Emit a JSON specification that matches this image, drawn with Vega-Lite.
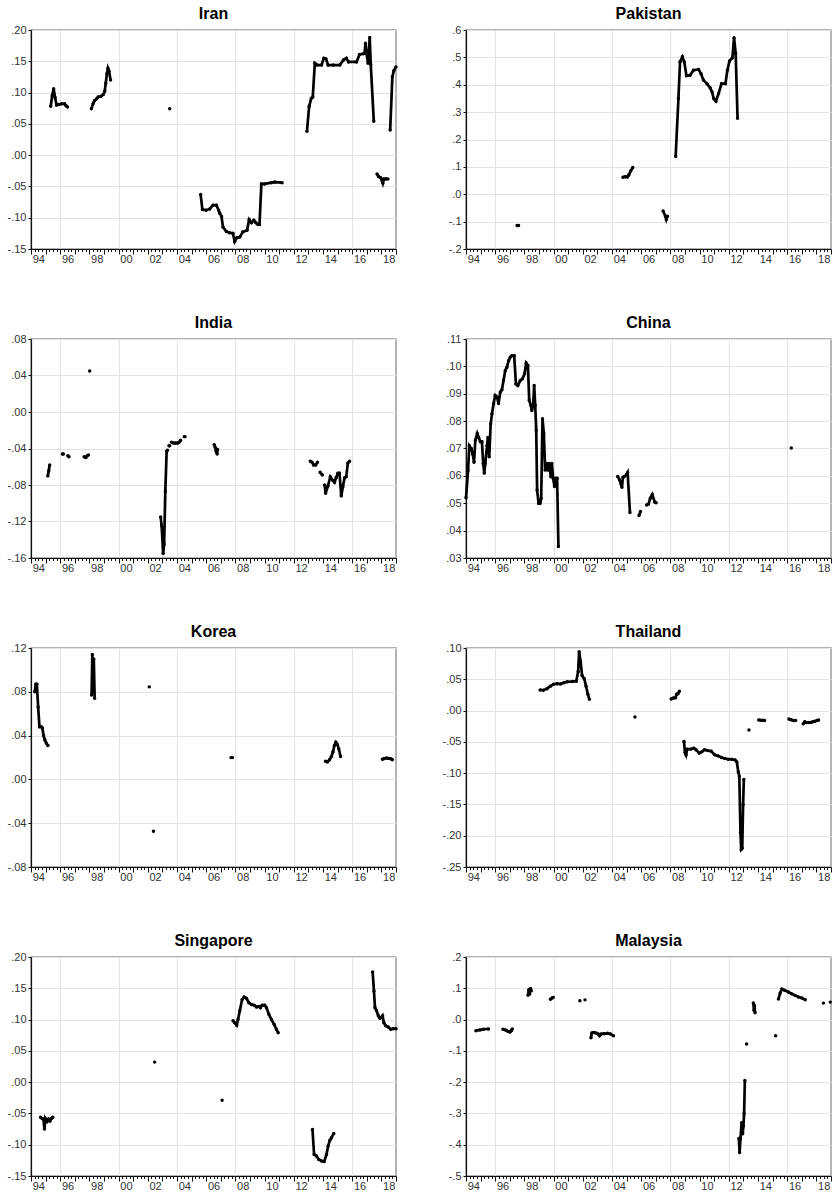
{
 "$schema": "https://vega.github.io/schema/vega-lite/v6.json",
 "padding": {"left": 6, "top": 5, "right": 2, "bottom": 3},
 "background": "white",
 "data": {"values": [
  {"c":"Iran","g":1,"x":1995.35,"y":0.078},{"c":"Iran","g":1,"x":1995.45,"y":0.095},{"c":"Iran","g":1,"x":1995.55,"y":0.106},{"c":"Iran","g":1,"x":1995.65,"y":0.092},{"c":"Iran","g":1,"x":1995.75,"y":0.080},{"c":"Iran","g":1,"x":1995.9,"y":0.081},{"c":"Iran","g":1,"x":1996.1,"y":0.082},{"c":"Iran","g":1,"x":1996.3,"y":0.082},{"c":"Iran","g":1,"x":1996.4,"y":0.079},{"c":"Iran","g":1,"x":1996.5,"y":0.077},
  {"c":"Iran","g":2,"x":1998.13,"y":0.074},{"c":"Iran","g":2,"x":1998.25,"y":0.082},{"c":"Iran","g":2,"x":1998.35,"y":0.087},{"c":"Iran","g":2,"x":1998.5,"y":0.090},{"c":"Iran","g":2,"x":1998.6,"y":0.093},{"c":"Iran","g":2,"x":1998.8,"y":0.094},{"c":"Iran","g":2,"x":1998.95,"y":0.097},{"c":"Iran","g":2,"x":1999.05,"y":0.102},{"c":"Iran","g":2,"x":1999.12,"y":0.115},{"c":"Iran","g":2,"x":1999.2,"y":0.130},{"c":"Iran","g":2,"x":1999.27,"y":0.139},{"c":"Iran","g":2,"x":1999.35,"y":0.134},{"c":"Iran","g":2,"x":1999.45,"y":0.120},
  {"c":"Iran","g":3,"x":2003.5,"y":0.074},
  {"c":"Iran","g":4,"x":2005.62,"y":-0.063},{"c":"Iran","g":4,"x":2005.74,"y":-0.087},{"c":"Iran","g":4,"x":2006.0,"y":-0.088},{"c":"Iran","g":4,"x":2006.24,"y":-0.086},{"c":"Iran","g":4,"x":2006.47,"y":-0.080},{"c":"Iran","g":4,"x":2006.7,"y":-0.080},{"c":"Iran","g":4,"x":2006.85,"y":-0.088},{"c":"Iran","g":4,"x":2006.93,"y":-0.093},{"c":"Iran","g":4,"x":2007.05,"y":-0.098},{"c":"Iran","g":4,"x":2007.15,"y":-0.115},{"c":"Iran","g":4,"x":2007.38,"y":-0.122},{"c":"Iran","g":4,"x":2007.6,"y":-0.124},{"c":"Iran","g":4,"x":2007.83,"y":-0.125},{"c":"Iran","g":4,"x":2007.95,"y":-0.138},{"c":"Iran","g":4,"x":2008.1,"y":-0.132},{"c":"Iran","g":4,"x":2008.3,"y":-0.131},{"c":"Iran","g":4,"x":2008.5,"y":-0.123},{"c":"Iran","g":4,"x":2008.8,"y":-0.120},{"c":"Iran","g":4,"x":2008.94,"y":-0.103},{"c":"Iran","g":4,"x":2009.1,"y":-0.108},{"c":"Iran","g":4,"x":2009.26,"y":-0.104},{"c":"Iran","g":4,"x":2009.4,"y":-0.108},{"c":"Iran","g":4,"x":2009.55,"y":-0.111},{"c":"Iran","g":4,"x":2009.65,"y":-0.111},{"c":"Iran","g":4,"x":2009.78,"y":-0.046},{"c":"Iran","g":4,"x":2010.0,"y":-0.046},{"c":"Iran","g":4,"x":2010.47,"y":-0.044},{"c":"Iran","g":4,"x":2010.7,"y":-0.043},{"c":"Iran","g":4,"x":2011.2,"y":-0.044},
  {"c":"Iran","g":5,"x":2012.9,"y":0.038},{"c":"Iran","g":5,"x":2013.05,"y":0.078},{"c":"Iran","g":5,"x":2013.2,"y":0.091},{"c":"Iran","g":5,"x":2013.3,"y":0.093},{"c":"Iran","g":5,"x":2013.44,"y":0.147},{"c":"Iran","g":5,"x":2013.6,"y":0.144},{"c":"Iran","g":5,"x":2013.9,"y":0.144},{"c":"Iran","g":5,"x":2014.06,"y":0.155},{"c":"Iran","g":5,"x":2014.2,"y":0.154},{"c":"Iran","g":5,"x":2014.35,"y":0.144},{"c":"Iran","g":5,"x":2014.7,"y":0.144},{"c":"Iran","g":5,"x":2015.15,"y":0.144},{"c":"Iran","g":5,"x":2015.4,"y":0.152},{"c":"Iran","g":5,"x":2015.6,"y":0.155},{"c":"Iran","g":5,"x":2015.75,"y":0.149},{"c":"Iran","g":5,"x":2016.3,"y":0.149},{"c":"Iran","g":5,"x":2016.5,"y":0.161},{"c":"Iran","g":5,"x":2016.75,"y":0.162},{"c":"Iran","g":5,"x":2016.85,"y":0.163},{"c":"Iran","g":5,"x":2016.91,"y":0.179},{"c":"Iran","g":5,"x":2016.98,"y":0.163},{"c":"Iran","g":5,"x":2017.08,"y":0.147},{"c":"Iran","g":5,"x":2017.2,"y":0.188},{"c":"Iran","g":5,"x":2017.27,"y":0.145},{"c":"Iran","g":5,"x":2017.48,"y":0.054},
  {"c":"Iran","g":6,"x":2017.7,"y":-0.030},{"c":"Iran","g":6,"x":2017.8,"y":-0.034},{"c":"Iran","g":6,"x":2017.95,"y":-0.036},{"c":"Iran","g":6,"x":2018.03,"y":-0.040},{"c":"Iran","g":6,"x":2018.1,"y":-0.045},{"c":"Iran","g":6,"x":2018.17,"y":-0.038},{"c":"Iran","g":6,"x":2018.3,"y":-0.038},{"c":"Iran","g":6,"x":2018.45,"y":-0.038},
  {"c":"Iran","g":7,"x":2018.6,"y":0.040},{"c":"Iran","g":7,"x":2018.75,"y":0.125},{"c":"Iran","g":7,"x":2018.85,"y":0.135},{"c":"Iran","g":7,"x":2019.0,"y":0.141},

  {"c":"Pakistan","g":1,"x":1997.5,"y":-0.114},{"c":"Pakistan","g":1,"x":1997.6,"y":-0.114},
  {"c":"Pakistan","g":2,"x":2004.75,"y":0.062},{"c":"Pakistan","g":2,"x":2004.9,"y":0.064},{"c":"Pakistan","g":2,"x":2005.05,"y":0.063},{"c":"Pakistan","g":2,"x":2005.15,"y":0.07},{"c":"Pakistan","g":2,"x":2005.28,"y":0.085},{"c":"Pakistan","g":2,"x":2005.42,"y":0.098},
  {"c":"Pakistan","g":3,"x":2007.5,"y":-0.061},{"c":"Pakistan","g":3,"x":2007.66,"y":-0.08},{"c":"Pakistan","g":3,"x":2007.72,"y":-0.092},{"c":"Pakistan","g":3,"x":2007.8,"y":-0.08},
  {"c":"Pakistan","g":4,"x":2008.36,"y":0.138},{"c":"Pakistan","g":4,"x":2008.55,"y":0.35},{"c":"Pakistan","g":4,"x":2008.66,"y":0.484},{"c":"Pakistan","g":4,"x":2008.82,"y":0.502},{"c":"Pakistan","g":4,"x":2008.95,"y":0.484},{"c":"Pakistan","g":4,"x":2009.1,"y":0.433},{"c":"Pakistan","g":4,"x":2009.35,"y":0.435},{"c":"Pakistan","g":4,"x":2009.58,"y":0.453},{"c":"Pakistan","g":4,"x":2009.93,"y":0.456},{"c":"Pakistan","g":4,"x":2010.1,"y":0.44},{"c":"Pakistan","g":4,"x":2010.26,"y":0.417},{"c":"Pakistan","g":4,"x":2010.5,"y":0.404},{"c":"Pakistan","g":4,"x":2010.73,"y":0.388},{"c":"Pakistan","g":4,"x":2010.85,"y":0.374},{"c":"Pakistan","g":4,"x":2010.97,"y":0.349},{"c":"Pakistan","g":4,"x":2011.12,"y":0.34},{"c":"Pakistan","g":4,"x":2011.3,"y":0.368},{"c":"Pakistan","g":4,"x":2011.5,"y":0.404},{"c":"Pakistan","g":4,"x":2011.77,"y":0.404},{"c":"Pakistan","g":4,"x":2011.9,"y":0.453},{"c":"Pakistan","g":4,"x":2012.05,"y":0.487},{"c":"Pakistan","g":4,"x":2012.25,"y":0.499},{"c":"Pakistan","g":4,"x":2012.36,"y":0.572},{"c":"Pakistan","g":4,"x":2012.47,"y":0.515},{"c":"Pakistan","g":4,"x":2012.6,"y":0.278},

  {"c":"India","g":1,"x":1995.15,"y":-0.070},{"c":"India","g":1,"x":1995.22,"y":-0.064},{"c":"India","g":1,"x":1995.28,"y":-0.058},
  {"c":"India","g":2,"x":1996.15,"y":-0.046},{"c":"India","g":2,"x":1996.22,"y":-0.046},
  {"c":"India","g":3,"x":1996.52,"y":-0.048},{"c":"India","g":3,"x":1996.6,"y":-0.049},
  {"c":"India","g":4,"x":1997.64,"y":-0.049},{"c":"India","g":4,"x":1997.75,"y":-0.050},{"c":"India","g":4,"x":1997.85,"y":-0.048},{"c":"India","g":4,"x":1997.93,"y":-0.047},
  {"c":"India","g":5,"x":1998.02,"y":0.045},
  {"c":"India","g":6,"x":2002.88,"y":-0.115},{"c":"India","g":6,"x":2002.95,"y":-0.125},{"c":"India","g":6,"x":2003.05,"y":-0.155},{"c":"India","g":6,"x":2003.12,"y":-0.145},{"c":"India","g":6,"x":2003.2,"y":-0.087},{"c":"India","g":6,"x":2003.29,"y":-0.043},{"c":"India","g":6,"x":2003.35,"y":-0.042},
  {"c":"India","g":7,"x":2003.45,"y":-0.037},{"c":"India","g":7,"x":2003.5,"y":-0.037},
  {"c":"India","g":8,"x":2003.62,"y":-0.033},{"c":"India","g":8,"x":2003.75,"y":-0.034},{"c":"India","g":8,"x":2003.9,"y":-0.034},{"c":"India","g":8,"x":2004.05,"y":-0.034},{"c":"India","g":8,"x":2004.15,"y":-0.033},{"c":"India","g":8,"x":2004.25,"y":-0.031},
  {"c":"India","g":9,"x":2004.5,"y":-0.027},{"c":"India","g":9,"x":2004.55,"y":-0.027},
  {"c":"India","g":10,"x":2006.55,"y":-0.036},{"c":"India","g":10,"x":2006.62,"y":-0.039},{"c":"India","g":10,"x":2006.68,"y":-0.043},{"c":"India","g":10,"x":2006.75,"y":-0.046},{"c":"India","g":10,"x":2006.78,"y":-0.041},
  {"c":"India","g":11,"x":2013.13,"y":-0.054},{"c":"India","g":11,"x":2013.25,"y":-0.055},{"c":"India","g":11,"x":2013.35,"y":-0.058},{"c":"India","g":11,"x":2013.5,"y":-0.058},{"c":"India","g":11,"x":2013.62,"y":-0.055},
  {"c":"India","g":12,"x":2013.8,"y":-0.066},{"c":"India","g":12,"x":2013.95,"y":-0.069},
  {"c":"India","g":13,"x":2014.11,"y":-0.080},{"c":"India","g":13,"x":2014.18,"y":-0.089},{"c":"India","g":13,"x":2014.34,"y":-0.081},{"c":"India","g":13,"x":2014.5,"y":-0.071},{"c":"India","g":13,"x":2014.68,"y":-0.075},{"c":"India","g":13,"x":2014.79,"y":-0.077},{"c":"India","g":13,"x":2014.9,"y":-0.072},{"c":"India","g":13,"x":2015.02,"y":-0.067},{"c":"India","g":13,"x":2015.13,"y":-0.067},{"c":"India","g":13,"x":2015.25,"y":-0.092},{"c":"India","g":13,"x":2015.36,"y":-0.082},{"c":"India","g":13,"x":2015.48,"y":-0.072},{"c":"India","g":13,"x":2015.59,"y":-0.071},{"c":"India","g":13,"x":2015.7,"y":-0.056},{"c":"India","g":13,"x":2015.82,"y":-0.054},

  {"c":"China","g":1,"x":1994.0,"y":0.052},{"c":"China","g":1,"x":1994.14,"y":0.062},{"c":"China","g":1,"x":1994.23,"y":0.071},{"c":"China","g":1,"x":1994.36,"y":0.070},{"c":"China","g":1,"x":1994.46,"y":0.068},{"c":"China","g":1,"x":1994.55,"y":0.065},{"c":"China","g":1,"x":1994.64,"y":0.073},{"c":"China","g":1,"x":1994.77,"y":0.0755},{"c":"China","g":1,"x":1994.87,"y":0.074},{"c":"China","g":1,"x":1994.98,"y":0.0725},{"c":"China","g":1,"x":1995.09,"y":0.0725},{"c":"China","g":1,"x":1995.18,"y":0.0645},{"c":"China","g":1,"x":1995.25,"y":0.061},{"c":"China","g":1,"x":1995.32,"y":0.0645},{"c":"China","g":1,"x":1995.44,"y":0.071},{"c":"China","g":1,"x":1995.5,"y":0.074},{"c":"China","g":1,"x":1995.59,"y":0.067},{"c":"China","g":1,"x":1995.69,"y":0.079},{"c":"China","g":1,"x":1995.78,"y":0.0827},{"c":"China","g":1,"x":1995.89,"y":0.0864},{"c":"China","g":1,"x":1996.0,"y":0.0894},{"c":"China","g":1,"x":1996.12,"y":0.0888},{"c":"China","g":1,"x":1996.23,"y":0.0864},{"c":"China","g":1,"x":1996.35,"y":0.0906},{"c":"China","g":1,"x":1996.46,"y":0.0915},{"c":"China","g":1,"x":1996.57,"y":0.0948},{"c":"China","g":1,"x":1996.69,"y":0.0985},{"c":"China","g":1,"x":1996.8,"y":0.0997},{"c":"China","g":1,"x":1996.92,"y":0.1021},{"c":"China","g":1,"x":1997.03,"y":0.1033},{"c":"China","g":1,"x":1997.14,"y":0.1039},{"c":"China","g":1,"x":1997.3,"y":0.1039},{"c":"China","g":1,"x":1997.42,"y":0.0936},{"c":"China","g":1,"x":1997.55,"y":0.093},{"c":"China","g":1,"x":1997.71,"y":0.0948},{"c":"China","g":1,"x":1997.87,"y":0.0955},{"c":"China","g":1,"x":1998.01,"y":0.0973},{"c":"China","g":1,"x":1998.12,"y":0.1012},{"c":"China","g":1,"x":1998.24,"y":0.1003},{"c":"China","g":1,"x":1998.33,"y":0.0876},{"c":"China","g":1,"x":1998.44,"y":0.0858},{"c":"China","g":1,"x":1998.51,"y":0.0839},{"c":"China","g":1,"x":1998.6,"y":0.0858},{"c":"China","g":1,"x":1998.67,"y":0.093},{"c":"China","g":1,"x":1998.74,"y":0.0858},{"c":"China","g":1,"x":1998.81,"y":0.0767},{"c":"China","g":1,"x":1998.87,"y":0.0548},{"c":"China","g":1,"x":1998.97,"y":0.050},{"c":"China","g":1,"x":1999.08,"y":0.050},{"c":"China","g":1,"x":1999.15,"y":0.0518},{"c":"China","g":1,"x":1999.24,"y":0.0809},{"c":"China","g":1,"x":1999.33,"y":0.0755},{"c":"China","g":1,"x":1999.42,"y":0.0621},{"c":"China","g":1,"x":1999.51,"y":0.0645},{"c":"China","g":1,"x":1999.6,"y":0.0621},{"c":"China","g":1,"x":1999.69,"y":0.0645},{"c":"China","g":1,"x":1999.81,"y":0.0597},{"c":"China","g":1,"x":1999.88,"y":0.0645},{"c":"China","g":1,"x":1999.97,"y":0.0591},{"c":"China","g":1,"x":2000.06,"y":0.0561},{"c":"China","g":1,"x":2000.15,"y":0.0591},{"c":"China","g":1,"x":2000.24,"y":0.0591},{"c":"China","g":1,"x":2000.33,"y":0.0342},
  {"c":"China","g":2,"x":2004.39,"y":0.0598},{"c":"China","g":2,"x":2004.52,"y":0.0585},{"c":"China","g":2,"x":2004.62,"y":0.057},{"c":"China","g":2,"x":2004.68,"y":0.0558},{"c":"China","g":2,"x":2004.75,"y":0.0595},{"c":"China","g":2,"x":2004.85,"y":0.0598},{"c":"China","g":2,"x":2005.0,"y":0.0605},{"c":"China","g":2,"x":2005.07,"y":0.0612},{"c":"China","g":2,"x":2005.23,"y":0.0466},
  {"c":"China","g":3,"x":2005.85,"y":0.0455},{"c":"China","g":3,"x":2005.95,"y":0.047},
  {"c":"China","g":4,"x":2006.37,"y":0.0494},{"c":"China","g":4,"x":2006.5,"y":0.0497},{"c":"China","g":4,"x":2006.62,"y":0.0518},{"c":"China","g":4,"x":2006.76,"y":0.0532},{"c":"China","g":4,"x":2006.92,"y":0.0505},{"c":"China","g":4,"x":2007.02,"y":0.0502},
  {"c":"China","g":5,"x":2016.28,"y":0.0702},

  {"c":"Korea","g":1,"x":1994.26,"y":0.080},{"c":"Korea","g":1,"x":1994.33,"y":0.087},{"c":"Korea","g":1,"x":1994.4,"y":0.087},{"c":"Korea","g":1,"x":1994.49,"y":0.066},{"c":"Korea","g":1,"x":1994.58,"y":0.048},{"c":"Korea","g":1,"x":1994.7,"y":0.048},{"c":"Korea","g":1,"x":1994.78,"y":0.047},{"c":"Korea","g":1,"x":1994.86,"y":0.040},{"c":"Korea","g":1,"x":1994.95,"y":0.036},{"c":"Korea","g":1,"x":1995.05,"y":0.033},{"c":"Korea","g":1,"x":1995.16,"y":0.031},
  {"c":"Korea","g":2,"x":1998.15,"y":0.077},{"c":"Korea","g":2,"x":1998.2,"y":0.114},{"c":"Korea","g":2,"x":1998.25,"y":0.080},{"c":"Korea","g":2,"x":1998.3,"y":0.110},{"c":"Korea","g":2,"x":1998.36,"y":0.074},
  {"c":"Korea","g":3,"x":2002.1,"y":0.0845},
  {"c":"Korea","g":4,"x":2002.39,"y":-0.0474},
  {"c":"Korea","g":5,"x":2007.7,"y":0.0199},{"c":"Korea","g":5,"x":2007.8,"y":0.0199},
  {"c":"Korea","g":6,"x":2014.17,"y":0.0165},{"c":"Korea","g":6,"x":2014.3,"y":0.016},{"c":"Korea","g":6,"x":2014.45,"y":0.018},{"c":"Korea","g":6,"x":2014.58,"y":0.021},{"c":"Korea","g":6,"x":2014.68,"y":0.025},{"c":"Korea","g":6,"x":2014.78,"y":0.031},{"c":"Korea","g":6,"x":2014.88,"y":0.034},{"c":"Korea","g":6,"x":2014.98,"y":0.032},{"c":"Korea","g":6,"x":2015.08,"y":0.028},{"c":"Korea","g":6,"x":2015.2,"y":0.021},
  {"c":"Korea","g":7,"x":2018.07,"y":0.0185},{"c":"Korea","g":7,"x":2018.2,"y":0.019},{"c":"Korea","g":7,"x":2018.35,"y":0.0195},{"c":"Korea","g":7,"x":2018.5,"y":0.0192},{"c":"Korea","g":7,"x":2018.65,"y":0.0188},{"c":"Korea","g":7,"x":2018.75,"y":0.018},

  {"c":"Thailand","g":1,"x":1999.08,"y":0.033},{"c":"Thailand","g":1,"x":1999.3,"y":0.0325},{"c":"Thailand","g":1,"x":1999.55,"y":0.035},{"c":"Thailand","g":1,"x":1999.78,"y":0.039},{"c":"Thailand","g":1,"x":2000.0,"y":0.042},{"c":"Thailand","g":1,"x":2000.24,"y":0.043},{"c":"Thailand","g":1,"x":2000.47,"y":0.0425},{"c":"Thailand","g":1,"x":2000.7,"y":0.0445},{"c":"Thailand","g":1,"x":2000.93,"y":0.046},{"c":"Thailand","g":1,"x":2001.28,"y":0.0465},{"c":"Thailand","g":1,"x":2001.55,"y":0.047},{"c":"Thailand","g":1,"x":2001.68,"y":0.062},{"c":"Thailand","g":1,"x":2001.75,"y":0.094},{"c":"Thailand","g":1,"x":2001.85,"y":0.078},{"c":"Thailand","g":1,"x":2001.95,"y":0.056},{"c":"Thailand","g":1,"x":2002.1,"y":0.051},{"c":"Thailand","g":1,"x":2002.22,"y":0.039},{"c":"Thailand","g":1,"x":2002.35,"y":0.026},{"c":"Thailand","g":1,"x":2002.45,"y":0.018},
  {"c":"Thailand","g":2,"x":2005.57,"y":-0.0104},
  {"c":"Thailand","g":3,"x":2008.05,"y":0.0185},{"c":"Thailand","g":3,"x":2008.2,"y":0.020},{"c":"Thailand","g":3,"x":2008.35,"y":0.0205},{"c":"Thailand","g":3,"x":2008.42,"y":0.026},{"c":"Thailand","g":3,"x":2008.52,"y":0.027},{"c":"Thailand","g":3,"x":2008.62,"y":0.031},
  {"c":"Thailand","g":4,"x":2008.93,"y":-0.0496},{"c":"Thailand","g":4,"x":2009.0,"y":-0.067},{"c":"Thailand","g":4,"x":2009.07,"y":-0.071},{"c":"Thailand","g":4,"x":2009.15,"y":-0.0616},{"c":"Thailand","g":4,"x":2009.4,"y":-0.0616},{"c":"Thailand","g":4,"x":2009.6,"y":-0.060},{"c":"Thailand","g":4,"x":2009.75,"y":-0.0627},{"c":"Thailand","g":4,"x":2009.98,"y":-0.068},{"c":"Thailand","g":4,"x":2010.15,"y":-0.066},{"c":"Thailand","g":4,"x":2010.33,"y":-0.0627},{"c":"Thailand","g":4,"x":2010.56,"y":-0.064},{"c":"Thailand","g":4,"x":2010.8,"y":-0.065},{"c":"Thailand","g":4,"x":2011.03,"y":-0.0708},{"c":"Thailand","g":4,"x":2011.26,"y":-0.0724},{"c":"Thailand","g":4,"x":2011.5,"y":-0.075},{"c":"Thailand","g":4,"x":2011.73,"y":-0.0767},{"c":"Thailand","g":4,"x":2011.96,"y":-0.0778},{"c":"Thailand","g":4,"x":2012.2,"y":-0.0778},{"c":"Thailand","g":4,"x":2012.43,"y":-0.0788},{"c":"Thailand","g":4,"x":2012.55,"y":-0.082},{"c":"Thailand","g":4,"x":2012.65,"y":-0.098},{"c":"Thailand","g":4,"x":2012.72,"y":-0.105},{"c":"Thailand","g":4,"x":2012.8,"y":-0.195},{"c":"Thailand","g":4,"x":2012.85,"y":-0.222},{"c":"Thailand","g":4,"x":2012.92,"y":-0.22},{"c":"Thailand","g":4,"x":2012.98,"y":-0.15},{"c":"Thailand","g":4,"x":2013.03,"y":-0.11},
  {"c":"Thailand","g":5,"x":2013.38,"y":-0.031},
  {"c":"Thailand","g":6,"x":2014.05,"y":-0.015},{"c":"Thailand","g":6,"x":2014.2,"y":-0.0155},{"c":"Thailand","g":6,"x":2014.35,"y":-0.0155},{"c":"Thailand","g":6,"x":2014.45,"y":-0.016},
  {"c":"Thailand","g":7,"x":2016.12,"y":-0.0135},{"c":"Thailand","g":7,"x":2016.25,"y":-0.0145},{"c":"Thailand","g":7,"x":2016.45,"y":-0.016},{"c":"Thailand","g":7,"x":2016.58,"y":-0.016},
  {"c":"Thailand","g":8,"x":2017.1,"y":-0.021},{"c":"Thailand","g":8,"x":2017.2,"y":-0.018},{"c":"Thailand","g":8,"x":2017.3,"y":-0.019},{"c":"Thailand","g":8,"x":2017.45,"y":-0.019},{"c":"Thailand","g":8,"x":2017.6,"y":-0.019},{"c":"Thailand","g":8,"x":2017.75,"y":-0.018},{"c":"Thailand","g":8,"x":2017.9,"y":-0.017},{"c":"Thailand","g":8,"x":2018.05,"y":-0.016},{"c":"Thailand","g":8,"x":2018.15,"y":-0.015},

  {"c":"Singapore","g":1,"x":1994.65,"y":-0.056},{"c":"Singapore","g":1,"x":1994.75,"y":-0.058},{"c":"Singapore","g":1,"x":1994.85,"y":-0.059},{"c":"Singapore","g":1,"x":1994.92,"y":-0.075},{"c":"Singapore","g":1,"x":1994.98,"y":-0.058},{"c":"Singapore","g":1,"x":1995.1,"y":-0.063},{"c":"Singapore","g":1,"x":1995.2,"y":-0.059},{"c":"Singapore","g":1,"x":1995.3,"y":-0.062},{"c":"Singapore","g":1,"x":1995.4,"y":-0.058},{"c":"Singapore","g":1,"x":1995.5,"y":-0.056},
  {"c":"Singapore","g":2,"x":2002.47,"y":0.032},
  {"c":"Singapore","g":3,"x":2007.09,"y":-0.0288},
  {"c":"Singapore","g":4,"x":2007.84,"y":0.098},{"c":"Singapore","g":4,"x":2007.95,"y":0.095},{"c":"Singapore","g":4,"x":2008.09,"y":0.091},{"c":"Singapore","g":4,"x":2008.18,"y":0.100},{"c":"Singapore","g":4,"x":2008.3,"y":0.114},{"c":"Singapore","g":4,"x":2008.46,"y":0.132},{"c":"Singapore","g":4,"x":2008.6,"y":0.136},{"c":"Singapore","g":4,"x":2008.76,"y":0.134},{"c":"Singapore","g":4,"x":2008.92,"y":0.127},{"c":"Singapore","g":4,"x":2009.1,"y":0.124},{"c":"Singapore","g":4,"x":2009.28,"y":0.123},{"c":"Singapore","g":4,"x":2009.44,"y":0.120},{"c":"Singapore","g":4,"x":2009.6,"y":0.121},{"c":"Singapore","g":4,"x":2009.71,"y":0.119},{"c":"Singapore","g":4,"x":2009.83,"y":0.123},{"c":"Singapore","g":4,"x":2010.01,"y":0.123},{"c":"Singapore","g":4,"x":2010.13,"y":0.119},{"c":"Singapore","g":4,"x":2010.29,"y":0.1085},{"c":"Singapore","g":4,"x":2010.47,"y":0.100},{"c":"Singapore","g":4,"x":2010.65,"y":0.0924},{"c":"Singapore","g":4,"x":2010.81,"y":0.0844},{"c":"Singapore","g":4,"x":2010.93,"y":0.079},
  {"c":"Singapore","g":5,"x":2013.28,"y":-0.0757},{"c":"Singapore","g":5,"x":2013.39,"y":-0.1156},{"c":"Singapore","g":5,"x":2013.55,"y":-0.118},{"c":"Singapore","g":5,"x":2013.71,"y":-0.1236},{"c":"Singapore","g":5,"x":2013.9,"y":-0.126},{"c":"Singapore","g":5,"x":2014.08,"y":-0.127},{"c":"Singapore","g":5,"x":2014.24,"y":-0.1156},{"c":"Singapore","g":5,"x":2014.35,"y":-0.102},{"c":"Singapore","g":5,"x":2014.47,"y":-0.093},{"c":"Singapore","g":5,"x":2014.58,"y":-0.089},{"c":"Singapore","g":5,"x":2014.74,"y":-0.082},
  {"c":"Singapore","g":6,"x":2017.4,"y":0.176},{"c":"Singapore","g":6,"x":2017.49,"y":0.1455},{"c":"Singapore","g":6,"x":2017.56,"y":0.119},{"c":"Singapore","g":6,"x":2017.67,"y":0.114},{"c":"Singapore","g":6,"x":2017.79,"y":0.106},{"c":"Singapore","g":6,"x":2017.9,"y":0.102},{"c":"Singapore","g":6,"x":2018.01,"y":0.1035},{"c":"Singapore","g":6,"x":2018.08,"y":0.106},{"c":"Singapore","g":6,"x":2018.17,"y":0.095},{"c":"Singapore","g":6,"x":2018.29,"y":0.090},{"c":"Singapore","g":6,"x":2018.47,"y":0.088},{"c":"Singapore","g":6,"x":2018.63,"y":0.0844},{"c":"Singapore","g":6,"x":2018.81,"y":0.0855},{"c":"Singapore","g":6,"x":2019.0,"y":0.0855},

  {"c":"Malaysia","g":1,"x":1994.68,"y":-0.0354},{"c":"Malaysia","g":1,"x":1994.96,"y":-0.033},{"c":"Malaysia","g":1,"x":1995.2,"y":-0.031},{"c":"Malaysia","g":1,"x":1995.54,"y":-0.030},
  {"c":"Malaysia","g":2,"x":1996.53,"y":-0.031},{"c":"Malaysia","g":2,"x":1996.7,"y":-0.033},{"c":"Malaysia","g":2,"x":1996.86,"y":-0.037},{"c":"Malaysia","g":2,"x":1997.0,"y":-0.040},{"c":"Malaysia","g":2,"x":1997.1,"y":-0.036},{"c":"Malaysia","g":2,"x":1997.17,"y":-0.030},
  {"c":"Malaysia","g":3,"x":1998.25,"y":0.078},{"c":"Malaysia","g":3,"x":1998.3,"y":0.095},{"c":"Malaysia","g":3,"x":1998.36,"y":0.082},{"c":"Malaysia","g":3,"x":1998.42,"y":0.099},{"c":"Malaysia","g":3,"x":1998.47,"y":0.092},
  {"c":"Malaysia","g":4,"x":1999.78,"y":0.065},{"c":"Malaysia","g":4,"x":1999.9,"y":0.069},{"c":"Malaysia","g":4,"x":1999.98,"y":0.071},
  {"c":"Malaysia","g":5,"x":2001.8,"y":0.060},
  {"c":"Malaysia","g":6,"x":2002.15,"y":0.063},
  {"c":"Malaysia","g":7,"x":2002.56,"y":-0.058},{"c":"Malaysia","g":7,"x":2002.62,"y":-0.043},{"c":"Malaysia","g":7,"x":2002.75,"y":-0.041},{"c":"Malaysia","g":7,"x":2002.9,"y":-0.043},{"c":"Malaysia","g":7,"x":2003.05,"y":-0.046},{"c":"Malaysia","g":7,"x":2003.15,"y":-0.052},{"c":"Malaysia","g":7,"x":2003.25,"y":-0.046},{"c":"Malaysia","g":7,"x":2003.45,"y":-0.045},{"c":"Malaysia","g":7,"x":2003.7,"y":-0.044},{"c":"Malaysia","g":7,"x":2003.9,"y":-0.046},{"c":"Malaysia","g":7,"x":2004.1,"y":-0.052},
  {"c":"Malaysia","g":8,"x":2012.69,"y":-0.38},{"c":"Malaysia","g":8,"x":2012.74,"y":-0.425},{"c":"Malaysia","g":8,"x":2012.8,"y":-0.38},{"c":"Malaysia","g":8,"x":2012.88,"y":-0.33},{"c":"Malaysia","g":8,"x":2012.95,"y":-0.365},{"c":"Malaysia","g":8,"x":2013.0,"y":-0.34},{"c":"Malaysia","g":8,"x":2013.05,"y":-0.30},{"c":"Malaysia","g":8,"x":2013.1,"y":-0.195},
  {"c":"Malaysia","g":9,"x":2013.22,"y":-0.078},
  {"c":"Malaysia","g":10,"x":2013.68,"y":0.053},{"c":"Malaysia","g":10,"x":2013.72,"y":0.03},{"c":"Malaysia","g":10,"x":2013.76,"y":0.045},{"c":"Malaysia","g":10,"x":2013.8,"y":0.022},
  {"c":"Malaysia","g":11,"x":2015.21,"y":-0.0516},
  {"c":"Malaysia","g":12,"x":2015.4,"y":0.0655},{"c":"Malaysia","g":12,"x":2015.52,"y":0.085},{"c":"Malaysia","g":12,"x":2015.64,"y":0.0977},{"c":"Malaysia","g":12,"x":2015.82,"y":0.0934},{"c":"Malaysia","g":12,"x":2016.08,"y":0.088},{"c":"Malaysia","g":12,"x":2016.3,"y":0.0827},{"c":"Malaysia","g":12,"x":2016.54,"y":0.0773},{"c":"Malaysia","g":12,"x":2016.77,"y":0.072},{"c":"Malaysia","g":12,"x":2017.0,"y":0.0687},{"c":"Malaysia","g":12,"x":2017.24,"y":0.0634},
  {"c":"Malaysia","g":13,"x":2018.48,"y":0.0526},
  {"c":"Malaysia","g":14,"x":2018.95,"y":0.0558}
 ]},
 "columns": 2,
 "spacing": {"row": 90, "column": 70},
 "bounds": "flush",
 "concat": [
  {"title": "Iran", "width": 365, "height": 219,
   "transform": [{"filter": "datum.c == 'Iran'"}],
   "encoding": {
    "x": {"field": "x", "type": "quantitative", "scale": {"domain": [1994, 2019], "nice": false, "zero": false},
     "axis": {"title": null, "values": [1994,1994.25,1994.5,1994.75,1995,1995.25,1995.5,1995.75,1996,1996.25,1996.5,1996.75,1997,1997.25,1997.5,1997.75,1998,1998.25,1998.5,1998.75,1999,1999.25,1999.5,1999.75,2000,2000.25,2000.5,2000.75,2001,2001.25,2001.5,2001.75,2002,2002.25,2002.5,2002.75,2003,2003.25,2003.5,2003.75,2004,2004.25,2004.5,2004.75,2005,2005.25,2005.5,2005.75,2006,2006.25,2006.5,2006.75,2007,2007.25,2007.5,2007.75,2008,2008.25,2008.5,2008.75,2009,2009.25,2009.5,2009.75,2010,2010.25,2010.5,2010.75,2011,2011.25,2011.5,2011.75,2012,2012.25,2012.5,2012.75,2013,2013.25,2013.5,2013.75,2014,2014.25,2014.5,2014.75,2015,2015.25,2015.5,2015.75,2016,2016.25,2016.5,2016.75,2017,2017.25,2017.5,2017.75,2018,2018.25,2018.5,2018.75,2019],
      "grid": true, "gridOpacity": {"condition": {"test": "datum.value % 4 == 0", "value": 1}, "value": 0},
      "tickSize": {"condition": {"test": "datum.value % 1 == 0", "value": 5}, "value": 2.5},
      "labelExpr": "datum.value % 2 == 0.5 ? substring(toString(floor(datum.value)), 2, 4) : ''",
      "labelOverlap": false, "labelFlush": false, "labelPadding": 2}},
    "y": {"field": "y", "type": "quantitative", "scale": {"domain": [-0.15, 0.2], "nice": false, "zero": false},
     "axis": {"title": null, "values": [-0.15,-0.1,-0.05,0,0.05,0.1,0.15,0.2], "format": ".2f", "labelExpr": "replace(replace(datum.label, '\u2212', '-'), '0.', '.')", "grid": true, "tickSize": 3, "labelPadding": 2}}
   },
   "layer": [
    {"mark": {"type": "line", "color": "#000", "strokeWidth": 2.7}, "encoding": {"detail": {"field": "g"}}},
    {"mark": {"type": "circle", "color": "#000", "size": 12, "opacity": 1}}
   ]},
  {"title": "Pakistan", "width": 365, "height": 219,
   "transform": [{"filter": "datum.c == 'Pakistan'"}],
   "encoding": {
    "x": {"field": "x", "type": "quantitative", "scale": {"domain": [1994, 2019], "nice": false, "zero": false},
     "axis": {"title": null, "values": [1994,1994.25,1994.5,1994.75,1995,1995.25,1995.5,1995.75,1996,1996.25,1996.5,1996.75,1997,1997.25,1997.5,1997.75,1998,1998.25,1998.5,1998.75,1999,1999.25,1999.5,1999.75,2000,2000.25,2000.5,2000.75,2001,2001.25,2001.5,2001.75,2002,2002.25,2002.5,2002.75,2003,2003.25,2003.5,2003.75,2004,2004.25,2004.5,2004.75,2005,2005.25,2005.5,2005.75,2006,2006.25,2006.5,2006.75,2007,2007.25,2007.5,2007.75,2008,2008.25,2008.5,2008.75,2009,2009.25,2009.5,2009.75,2010,2010.25,2010.5,2010.75,2011,2011.25,2011.5,2011.75,2012,2012.25,2012.5,2012.75,2013,2013.25,2013.5,2013.75,2014,2014.25,2014.5,2014.75,2015,2015.25,2015.5,2015.75,2016,2016.25,2016.5,2016.75,2017,2017.25,2017.5,2017.75,2018,2018.25,2018.5,2018.75,2019],
      "grid": true, "gridOpacity": {"condition": {"test": "datum.value % 4 == 0", "value": 1}, "value": 0},
      "tickSize": {"condition": {"test": "datum.value % 1 == 0", "value": 5}, "value": 2.5},
      "labelExpr": "datum.value % 2 == 0.5 ? substring(toString(floor(datum.value)), 2, 4) : ''",
      "labelOverlap": false, "labelFlush": false, "labelPadding": 2}},
    "y": {"field": "y", "type": "quantitative", "scale": {"domain": [-0.2, 0.6], "nice": false, "zero": false},
     "axis": {"title": null, "values": [-0.2,-0.1,0,0.1,0.2,0.3,0.4,0.5,0.6], "format": ".1f", "labelExpr": "replace(replace(datum.label, '\u2212', '-'), '0.', '.')", "grid": true, "tickSize": 3, "labelPadding": 2}}
   },
   "layer": [
    {"mark": {"type": "line", "color": "#000", "strokeWidth": 2.7}, "encoding": {"detail": {"field": "g"}}},
    {"mark": {"type": "circle", "color": "#000", "size": 12, "opacity": 1}}
   ]},
  {"title": "India", "width": 365, "height": 219,
   "transform": [{"filter": "datum.c == 'India'"}],
   "encoding": {
    "x": {"field": "x", "type": "quantitative", "scale": {"domain": [1994, 2019], "nice": false, "zero": false},
     "axis": {"title": null, "values": [1994,1994.25,1994.5,1994.75,1995,1995.25,1995.5,1995.75,1996,1996.25,1996.5,1996.75,1997,1997.25,1997.5,1997.75,1998,1998.25,1998.5,1998.75,1999,1999.25,1999.5,1999.75,2000,2000.25,2000.5,2000.75,2001,2001.25,2001.5,2001.75,2002,2002.25,2002.5,2002.75,2003,2003.25,2003.5,2003.75,2004,2004.25,2004.5,2004.75,2005,2005.25,2005.5,2005.75,2006,2006.25,2006.5,2006.75,2007,2007.25,2007.5,2007.75,2008,2008.25,2008.5,2008.75,2009,2009.25,2009.5,2009.75,2010,2010.25,2010.5,2010.75,2011,2011.25,2011.5,2011.75,2012,2012.25,2012.5,2012.75,2013,2013.25,2013.5,2013.75,2014,2014.25,2014.5,2014.75,2015,2015.25,2015.5,2015.75,2016,2016.25,2016.5,2016.75,2017,2017.25,2017.5,2017.75,2018,2018.25,2018.5,2018.75,2019],
      "grid": true, "gridOpacity": {"condition": {"test": "datum.value % 4 == 0", "value": 1}, "value": 0},
      "tickSize": {"condition": {"test": "datum.value % 1 == 0", "value": 5}, "value": 2.5},
      "labelExpr": "datum.value % 2 == 0.5 ? substring(toString(floor(datum.value)), 2, 4) : ''",
      "labelOverlap": false, "labelFlush": false, "labelPadding": 2}},
    "y": {"field": "y", "type": "quantitative", "scale": {"domain": [-0.16, 0.08], "nice": false, "zero": false},
     "axis": {"title": null, "values": [-0.16,-0.12,-0.08,-0.04,0,0.04,0.08], "format": ".2f", "labelExpr": "replace(replace(datum.label, '\u2212', '-'), '0.', '.')", "grid": true, "tickSize": 3, "labelPadding": 2}}
   },
   "layer": [
    {"mark": {"type": "line", "color": "#000", "strokeWidth": 2.7}, "encoding": {"detail": {"field": "g"}}},
    {"mark": {"type": "circle", "color": "#000", "size": 12, "opacity": 1}}
   ]},
  {"title": "China", "width": 365, "height": 219,
   "transform": [{"filter": "datum.c == 'China'"}],
   "encoding": {
    "x": {"field": "x", "type": "quantitative", "scale": {"domain": [1994, 2019], "nice": false, "zero": false},
     "axis": {"title": null, "values": [1994,1994.25,1994.5,1994.75,1995,1995.25,1995.5,1995.75,1996,1996.25,1996.5,1996.75,1997,1997.25,1997.5,1997.75,1998,1998.25,1998.5,1998.75,1999,1999.25,1999.5,1999.75,2000,2000.25,2000.5,2000.75,2001,2001.25,2001.5,2001.75,2002,2002.25,2002.5,2002.75,2003,2003.25,2003.5,2003.75,2004,2004.25,2004.5,2004.75,2005,2005.25,2005.5,2005.75,2006,2006.25,2006.5,2006.75,2007,2007.25,2007.5,2007.75,2008,2008.25,2008.5,2008.75,2009,2009.25,2009.5,2009.75,2010,2010.25,2010.5,2010.75,2011,2011.25,2011.5,2011.75,2012,2012.25,2012.5,2012.75,2013,2013.25,2013.5,2013.75,2014,2014.25,2014.5,2014.75,2015,2015.25,2015.5,2015.75,2016,2016.25,2016.5,2016.75,2017,2017.25,2017.5,2017.75,2018,2018.25,2018.5,2018.75,2019],
      "grid": true, "gridOpacity": {"condition": {"test": "datum.value % 4 == 0", "value": 1}, "value": 0},
      "tickSize": {"condition": {"test": "datum.value % 1 == 0", "value": 5}, "value": 2.5},
      "labelExpr": "datum.value % 2 == 0.5 ? substring(toString(floor(datum.value)), 2, 4) : ''",
      "labelOverlap": false, "labelFlush": false, "labelPadding": 2}},
    "y": {"field": "y", "type": "quantitative", "scale": {"domain": [0.03, 0.11], "nice": false, "zero": false},
     "axis": {"title": null, "values": [0.03,0.04,0.05,0.06,0.07,0.08,0.09,0.1,0.11], "format": ".2f", "labelExpr": "replace(replace(datum.label, '\u2212', '-'), '0.', '.')", "grid": true, "tickSize": 3, "labelPadding": 2}}
   },
   "layer": [
    {"mark": {"type": "line", "color": "#000", "strokeWidth": 2.7}, "encoding": {"detail": {"field": "g"}}},
    {"mark": {"type": "circle", "color": "#000", "size": 12, "opacity": 1}}
   ]},
  {"title": "Korea", "width": 365, "height": 219,
   "transform": [{"filter": "datum.c == 'Korea'"}],
   "encoding": {
    "x": {"field": "x", "type": "quantitative", "scale": {"domain": [1994, 2019], "nice": false, "zero": false},
     "axis": {"title": null, "values": [1994,1994.25,1994.5,1994.75,1995,1995.25,1995.5,1995.75,1996,1996.25,1996.5,1996.75,1997,1997.25,1997.5,1997.75,1998,1998.25,1998.5,1998.75,1999,1999.25,1999.5,1999.75,2000,2000.25,2000.5,2000.75,2001,2001.25,2001.5,2001.75,2002,2002.25,2002.5,2002.75,2003,2003.25,2003.5,2003.75,2004,2004.25,2004.5,2004.75,2005,2005.25,2005.5,2005.75,2006,2006.25,2006.5,2006.75,2007,2007.25,2007.5,2007.75,2008,2008.25,2008.5,2008.75,2009,2009.25,2009.5,2009.75,2010,2010.25,2010.5,2010.75,2011,2011.25,2011.5,2011.75,2012,2012.25,2012.5,2012.75,2013,2013.25,2013.5,2013.75,2014,2014.25,2014.5,2014.75,2015,2015.25,2015.5,2015.75,2016,2016.25,2016.5,2016.75,2017,2017.25,2017.5,2017.75,2018,2018.25,2018.5,2018.75,2019],
      "grid": true, "gridOpacity": {"condition": {"test": "datum.value % 4 == 0", "value": 1}, "value": 0},
      "tickSize": {"condition": {"test": "datum.value % 1 == 0", "value": 5}, "value": 2.5},
      "labelExpr": "datum.value % 2 == 0.5 ? substring(toString(floor(datum.value)), 2, 4) : ''",
      "labelOverlap": false, "labelFlush": false, "labelPadding": 2}},
    "y": {"field": "y", "type": "quantitative", "scale": {"domain": [-0.08, 0.12], "nice": false, "zero": false},
     "axis": {"title": null, "values": [-0.08,-0.04,0,0.04,0.08,0.12], "format": ".2f", "labelExpr": "replace(replace(datum.label, '\u2212', '-'), '0.', '.')", "grid": true, "tickSize": 3, "labelPadding": 2}}
   },
   "layer": [
    {"mark": {"type": "line", "color": "#000", "strokeWidth": 2.7}, "encoding": {"detail": {"field": "g"}}},
    {"mark": {"type": "circle", "color": "#000", "size": 12, "opacity": 1}}
   ]},
  {"title": "Thailand", "width": 365, "height": 219,
   "transform": [{"filter": "datum.c == 'Thailand'"}],
   "encoding": {
    "x": {"field": "x", "type": "quantitative", "scale": {"domain": [1994, 2019], "nice": false, "zero": false},
     "axis": {"title": null, "values": [1994,1994.25,1994.5,1994.75,1995,1995.25,1995.5,1995.75,1996,1996.25,1996.5,1996.75,1997,1997.25,1997.5,1997.75,1998,1998.25,1998.5,1998.75,1999,1999.25,1999.5,1999.75,2000,2000.25,2000.5,2000.75,2001,2001.25,2001.5,2001.75,2002,2002.25,2002.5,2002.75,2003,2003.25,2003.5,2003.75,2004,2004.25,2004.5,2004.75,2005,2005.25,2005.5,2005.75,2006,2006.25,2006.5,2006.75,2007,2007.25,2007.5,2007.75,2008,2008.25,2008.5,2008.75,2009,2009.25,2009.5,2009.75,2010,2010.25,2010.5,2010.75,2011,2011.25,2011.5,2011.75,2012,2012.25,2012.5,2012.75,2013,2013.25,2013.5,2013.75,2014,2014.25,2014.5,2014.75,2015,2015.25,2015.5,2015.75,2016,2016.25,2016.5,2016.75,2017,2017.25,2017.5,2017.75,2018,2018.25,2018.5,2018.75,2019],
      "grid": true, "gridOpacity": {"condition": {"test": "datum.value % 4 == 0", "value": 1}, "value": 0},
      "tickSize": {"condition": {"test": "datum.value % 1 == 0", "value": 5}, "value": 2.5},
      "labelExpr": "datum.value % 2 == 0.5 ? substring(toString(floor(datum.value)), 2, 4) : ''",
      "labelOverlap": false, "labelFlush": false, "labelPadding": 2}},
    "y": {"field": "y", "type": "quantitative", "scale": {"domain": [-0.25, 0.1], "nice": false, "zero": false},
     "axis": {"title": null, "values": [-0.25,-0.2,-0.15,-0.1,-0.05,0,0.05,0.1], "format": ".2f", "labelExpr": "replace(replace(datum.label, '\u2212', '-'), '0.', '.')", "grid": true, "tickSize": 3, "labelPadding": 2}}
   },
   "layer": [
    {"mark": {"type": "line", "color": "#000", "strokeWidth": 2.7}, "encoding": {"detail": {"field": "g"}}},
    {"mark": {"type": "circle", "color": "#000", "size": 12, "opacity": 1}}
   ]},
  {"title": "Singapore", "width": 365, "height": 219,
   "transform": [{"filter": "datum.c == 'Singapore'"}],
   "encoding": {
    "x": {"field": "x", "type": "quantitative", "scale": {"domain": [1994, 2019], "nice": false, "zero": false},
     "axis": {"title": null, "values": [1994,1994.25,1994.5,1994.75,1995,1995.25,1995.5,1995.75,1996,1996.25,1996.5,1996.75,1997,1997.25,1997.5,1997.75,1998,1998.25,1998.5,1998.75,1999,1999.25,1999.5,1999.75,2000,2000.25,2000.5,2000.75,2001,2001.25,2001.5,2001.75,2002,2002.25,2002.5,2002.75,2003,2003.25,2003.5,2003.75,2004,2004.25,2004.5,2004.75,2005,2005.25,2005.5,2005.75,2006,2006.25,2006.5,2006.75,2007,2007.25,2007.5,2007.75,2008,2008.25,2008.5,2008.75,2009,2009.25,2009.5,2009.75,2010,2010.25,2010.5,2010.75,2011,2011.25,2011.5,2011.75,2012,2012.25,2012.5,2012.75,2013,2013.25,2013.5,2013.75,2014,2014.25,2014.5,2014.75,2015,2015.25,2015.5,2015.75,2016,2016.25,2016.5,2016.75,2017,2017.25,2017.5,2017.75,2018,2018.25,2018.5,2018.75,2019],
      "grid": true, "gridOpacity": {"condition": {"test": "datum.value % 4 == 0", "value": 1}, "value": 0},
      "tickSize": {"condition": {"test": "datum.value % 1 == 0", "value": 5}, "value": 2.5},
      "labelExpr": "datum.value % 2 == 0.5 ? substring(toString(floor(datum.value)), 2, 4) : ''",
      "labelOverlap": false, "labelFlush": false, "labelPadding": 2}},
    "y": {"field": "y", "type": "quantitative", "scale": {"domain": [-0.15, 0.2], "nice": false, "zero": false},
     "axis": {"title": null, "values": [-0.15,-0.1,-0.05,0,0.05,0.1,0.15,0.2], "format": ".2f", "labelExpr": "replace(replace(datum.label, '\u2212', '-'), '0.', '.')", "grid": true, "tickSize": 3, "labelPadding": 2}}
   },
   "layer": [
    {"mark": {"type": "line", "color": "#000", "strokeWidth": 2.7}, "encoding": {"detail": {"field": "g"}}},
    {"mark": {"type": "circle", "color": "#000", "size": 12, "opacity": 1}}
   ]},
  {"title": "Malaysia", "width": 365, "height": 219,
   "transform": [{"filter": "datum.c == 'Malaysia'"}],
   "encoding": {
    "x": {"field": "x", "type": "quantitative", "scale": {"domain": [1994, 2019], "nice": false, "zero": false},
     "axis": {"title": null, "values": [1994,1994.25,1994.5,1994.75,1995,1995.25,1995.5,1995.75,1996,1996.25,1996.5,1996.75,1997,1997.25,1997.5,1997.75,1998,1998.25,1998.5,1998.75,1999,1999.25,1999.5,1999.75,2000,2000.25,2000.5,2000.75,2001,2001.25,2001.5,2001.75,2002,2002.25,2002.5,2002.75,2003,2003.25,2003.5,2003.75,2004,2004.25,2004.5,2004.75,2005,2005.25,2005.5,2005.75,2006,2006.25,2006.5,2006.75,2007,2007.25,2007.5,2007.75,2008,2008.25,2008.5,2008.75,2009,2009.25,2009.5,2009.75,2010,2010.25,2010.5,2010.75,2011,2011.25,2011.5,2011.75,2012,2012.25,2012.5,2012.75,2013,2013.25,2013.5,2013.75,2014,2014.25,2014.5,2014.75,2015,2015.25,2015.5,2015.75,2016,2016.25,2016.5,2016.75,2017,2017.25,2017.5,2017.75,2018,2018.25,2018.5,2018.75,2019],
      "grid": true, "gridOpacity": {"condition": {"test": "datum.value % 4 == 0", "value": 1}, "value": 0},
      "tickSize": {"condition": {"test": "datum.value % 1 == 0", "value": 5}, "value": 2.5},
      "labelExpr": "datum.value % 2 == 0.5 ? substring(toString(floor(datum.value)), 2, 4) : ''",
      "labelOverlap": false, "labelFlush": false, "labelPadding": 2}},
    "y": {"field": "y", "type": "quantitative", "scale": {"domain": [-0.5, 0.2], "nice": false, "zero": false},
     "axis": {"title": null, "values": [-0.5,-0.4,-0.3,-0.2,-0.1,0,0.1,0.2], "format": ".1f", "labelExpr": "replace(replace(datum.label, '\u2212', '-'), '0.', '.')", "grid": true, "tickSize": 3, "labelPadding": 2}}
   },
   "layer": [
    {"mark": {"type": "line", "color": "#000", "strokeWidth": 2.7}, "encoding": {"detail": {"field": "g"}}},
    {"mark": {"type": "circle", "color": "#000", "size": 12, "opacity": 1}}
   ]}
 ],
 "config": {
  "view": {"stroke": "#9a9a9a", "strokeWidth": 1.5},
  "title": {"fontSize": 16, "font": "Liberation Sans", "fontWeight": "bold", "color": "#000", "offset": 2},
  "axis": {"labelFont": "Liberation Sans", "labelFontSize": 11, "labelColor": "#333", "domainColor": "#111", "domainWidth": 1.2, "tickColor": "#111", "gridColor": "#e3e3e3", "gridWidth": 1}
 }
}
